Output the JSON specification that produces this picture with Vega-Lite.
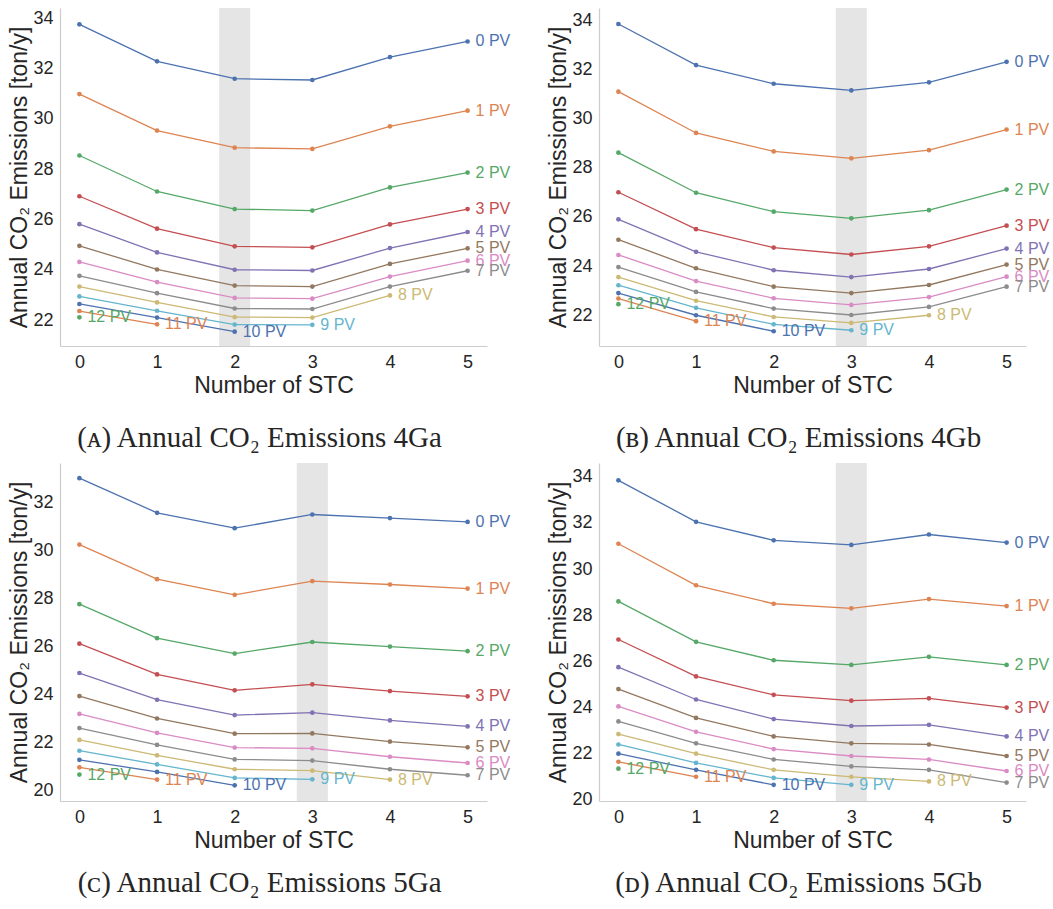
{
  "$schema": "https://vega.github.io/schema/vega-lite/v6.json",
  "padding": {"left": 8, "top": 8, "right": 2, "bottom": 2},
  "background": "white",
  "config": {
    "view": {"stroke": null},
    "axis": {"grid": false, "ticks": false, "tickSize": 0, "domainColor": "#cccccc", "domainWidth": 1.2, "labelFont": "Liberation Sans", "labelFontSize": 18, "labelColor": "#262626", "titleFont": "Liberation Sans", "titleFontSize": 23, "titleFontWeight": "normal", "titleColor": "#262626", "labelPadding": 7},
    "axisX": {"titlePadding": 3, "format": "d"},
    "axisY": {"titlePadding": 1},
    "title": {"orient": "bottom", "font": "Liberation Serif", "fontSize": 29, "fontWeight": "normal", "color": "#262626", "offset": 25, "anchor": "middle", "frame": "bounds"}
  },
  "datasets": {
    "bandA": [{"lo": 1.8, "hi": 2.2}],
    "bandB": [{"lo": 2.8, "hi": 3.2}],
    "bandC": [{"lo": 2.8, "hi": 3.2}],
    "bandD": [{"lo": 2.8, "hi": 3.2}],
    "A": [
      {"pv": "0 PV", "stc": 0, "emis": 33.75}, {"pv": "0 PV", "stc": 1, "emis": 32.28}, {"pv": "0 PV", "stc": 2, "emis": 31.59}, {"pv": "0 PV", "stc": 3, "emis": 31.54}, {"pv": "0 PV", "stc": 4, "emis": 32.45}, {"pv": "0 PV", "stc": 5, "emis": 33.07},
      {"pv": "1 PV", "stc": 0, "emis": 30.98}, {"pv": "1 PV", "stc": 1, "emis": 29.53}, {"pv": "1 PV", "stc": 2, "emis": 28.85}, {"pv": "1 PV", "stc": 3, "emis": 28.80}, {"pv": "1 PV", "stc": 4, "emis": 29.70}, {"pv": "1 PV", "stc": 5, "emis": 30.32},
      {"pv": "2 PV", "stc": 0, "emis": 28.54}, {"pv": "2 PV", "stc": 1, "emis": 27.11}, {"pv": "2 PV", "stc": 2, "emis": 26.41}, {"pv": "2 PV", "stc": 3, "emis": 26.35}, {"pv": "2 PV", "stc": 4, "emis": 27.27}, {"pv": "2 PV", "stc": 5, "emis": 27.86},
      {"pv": "3 PV", "stc": 0, "emis": 26.92}, {"pv": "3 PV", "stc": 1, "emis": 25.63}, {"pv": "3 PV", "stc": 2, "emis": 24.93}, {"pv": "3 PV", "stc": 3, "emis": 24.89}, {"pv": "3 PV", "stc": 4, "emis": 25.80}, {"pv": "3 PV", "stc": 5, "emis": 26.41},
      {"pv": "4 PV", "stc": 0, "emis": 25.81}, {"pv": "4 PV", "stc": 1, "emis": 24.69}, {"pv": "4 PV", "stc": 2, "emis": 24.00}, {"pv": "4 PV", "stc": 3, "emis": 23.97}, {"pv": "4 PV", "stc": 4, "emis": 24.86}, {"pv": "4 PV", "stc": 5, "emis": 25.50},
      {"pv": "5 PV", "stc": 0, "emis": 24.95}, {"pv": "5 PV", "stc": 1, "emis": 24.01}, {"pv": "5 PV", "stc": 2, "emis": 23.37}, {"pv": "5 PV", "stc": 3, "emis": 23.33}, {"pv": "5 PV", "stc": 4, "emis": 24.23}, {"pv": "5 PV", "stc": 5, "emis": 24.85},
      {"pv": "6 PV", "stc": 0, "emis": 24.31}, {"pv": "6 PV", "stc": 1, "emis": 23.51}, {"pv": "6 PV", "stc": 2, "emis": 22.88}, {"pv": "6 PV", "stc": 3, "emis": 22.85}, {"pv": "6 PV", "stc": 4, "emis": 23.73}, {"pv": "6 PV", "stc": 5, "emis": 24.36},
      {"pv": "7 PV", "stc": 0, "emis": 23.76}, {"pv": "7 PV", "stc": 1, "emis": 23.07}, {"pv": "7 PV", "stc": 2, "emis": 22.46}, {"pv": "7 PV", "stc": 3, "emis": 22.44}, {"pv": "7 PV", "stc": 4, "emis": 23.33}, {"pv": "7 PV", "stc": 5, "emis": 23.96},
      {"pv": "8 PV", "stc": 0, "emis": 23.33}, {"pv": "8 PV", "stc": 1, "emis": 22.70}, {"pv": "8 PV", "stc": 2, "emis": 22.12}, {"pv": "8 PV", "stc": 3, "emis": 22.10}, {"pv": "8 PV", "stc": 4, "emis": 22.98},
      {"pv": "9 PV", "stc": 0, "emis": 22.94}, {"pv": "9 PV", "stc": 1, "emis": 22.37}, {"pv": "9 PV", "stc": 2, "emis": 21.82}, {"pv": "9 PV", "stc": 3, "emis": 21.81},
      {"pv": "10 PV", "stc": 0, "emis": 22.64}, {"pv": "10 PV", "stc": 1, "emis": 22.10}, {"pv": "10 PV", "stc": 2, "emis": 21.54},
      {"pv": "11 PV", "stc": 0, "emis": 22.36}, {"pv": "11 PV", "stc": 1, "emis": 21.83},
      {"pv": "12 PV", "stc": 0, "emis": 22.11}
    ],
    "B": [
      {"pv": "0 PV", "stc": 0, "emis": 33.84}, {"pv": "0 PV", "stc": 1, "emis": 32.17}, {"pv": "0 PV", "stc": 2, "emis": 31.41}, {"pv": "0 PV", "stc": 3, "emis": 31.14}, {"pv": "0 PV", "stc": 4, "emis": 31.47}, {"pv": "0 PV", "stc": 5, "emis": 32.30},
      {"pv": "1 PV", "stc": 0, "emis": 31.09}, {"pv": "1 PV", "stc": 1, "emis": 29.41}, {"pv": "1 PV", "stc": 2, "emis": 28.66}, {"pv": "1 PV", "stc": 3, "emis": 28.38}, {"pv": "1 PV", "stc": 4, "emis": 28.71}, {"pv": "1 PV", "stc": 5, "emis": 29.55},
      {"pv": "2 PV", "stc": 0, "emis": 28.61}, {"pv": "2 PV", "stc": 1, "emis": 26.98}, {"pv": "2 PV", "stc": 2, "emis": 26.21}, {"pv": "2 PV", "stc": 3, "emis": 25.94}, {"pv": "2 PV", "stc": 4, "emis": 26.27}, {"pv": "2 PV", "stc": 5, "emis": 27.11},
      {"pv": "3 PV", "stc": 0, "emis": 27.00}, {"pv": "3 PV", "stc": 1, "emis": 25.50}, {"pv": "3 PV", "stc": 2, "emis": 24.75}, {"pv": "3 PV", "stc": 3, "emis": 24.47}, {"pv": "3 PV", "stc": 4, "emis": 24.80}, {"pv": "3 PV", "stc": 5, "emis": 25.64},
      {"pv": "4 PV", "stc": 0, "emis": 25.90}, {"pv": "4 PV", "stc": 1, "emis": 24.58}, {"pv": "4 PV", "stc": 2, "emis": 23.83}, {"pv": "4 PV", "stc": 3, "emis": 23.55}, {"pv": "4 PV", "stc": 4, "emis": 23.88}, {"pv": "4 PV", "stc": 5, "emis": 24.71},
      {"pv": "5 PV", "stc": 0, "emis": 25.07}, {"pv": "5 PV", "stc": 1, "emis": 23.91}, {"pv": "5 PV", "stc": 2, "emis": 23.16}, {"pv": "5 PV", "stc": 3, "emis": 22.90}, {"pv": "5 PV", "stc": 4, "emis": 23.23}, {"pv": "5 PV", "stc": 5, "emis": 24.06},
      {"pv": "6 PV", "stc": 0, "emis": 24.45}, {"pv": "6 PV", "stc": 1, "emis": 23.39}, {"pv": "6 PV", "stc": 2, "emis": 22.69}, {"pv": "6 PV", "stc": 3, "emis": 22.42}, {"pv": "6 PV", "stc": 4, "emis": 22.74}, {"pv": "6 PV", "stc": 5, "emis": 23.57},
      {"pv": "7 PV", "stc": 0, "emis": 23.96}, {"pv": "7 PV", "stc": 1, "emis": 22.95}, {"pv": "7 PV", "stc": 2, "emis": 22.27}, {"pv": "7 PV", "stc": 3, "emis": 22.01}, {"pv": "7 PV", "stc": 4, "emis": 22.34}, {"pv": "7 PV", "stc": 5, "emis": 23.16},
      {"pv": "8 PV", "stc": 0, "emis": 23.55}, {"pv": "8 PV", "stc": 1, "emis": 22.59}, {"pv": "8 PV", "stc": 2, "emis": 21.93}, {"pv": "8 PV", "stc": 3, "emis": 21.69}, {"pv": "8 PV", "stc": 4, "emis": 22.00},
      {"pv": "9 PV", "stc": 0, "emis": 23.22}, {"pv": "9 PV", "stc": 1, "emis": 22.30}, {"pv": "9 PV", "stc": 2, "emis": 21.63}, {"pv": "9 PV", "stc": 3, "emis": 21.39},
      {"pv": "10 PV", "stc": 0, "emis": 22.90}, {"pv": "10 PV", "stc": 1, "emis": 22.00}, {"pv": "10 PV", "stc": 2, "emis": 21.35},
      {"pv": "11 PV", "stc": 0, "emis": 22.68}, {"pv": "11 PV", "stc": 1, "emis": 21.76},
      {"pv": "12 PV", "stc": 0, "emis": 22.45}
    ],
    "C": [
      {"pv": "0 PV", "stc": 0, "emis": 33.00}, {"pv": "0 PV", "stc": 1, "emis": 31.56}, {"pv": "0 PV", "stc": 2, "emis": 30.92}, {"pv": "0 PV", "stc": 3, "emis": 31.49}, {"pv": "0 PV", "stc": 4, "emis": 31.34}, {"pv": "0 PV", "stc": 5, "emis": 31.18},
      {"pv": "1 PV", "stc": 0, "emis": 30.24}, {"pv": "1 PV", "stc": 1, "emis": 28.80}, {"pv": "1 PV", "stc": 2, "emis": 28.15}, {"pv": "1 PV", "stc": 3, "emis": 28.72}, {"pv": "1 PV", "stc": 4, "emis": 28.58}, {"pv": "1 PV", "stc": 5, "emis": 28.41},
      {"pv": "2 PV", "stc": 0, "emis": 27.76}, {"pv": "2 PV", "stc": 1, "emis": 26.35}, {"pv": "2 PV", "stc": 2, "emis": 25.71}, {"pv": "2 PV", "stc": 3, "emis": 26.19}, {"pv": "2 PV", "stc": 4, "emis": 26.00}, {"pv": "2 PV", "stc": 5, "emis": 25.81},
      {"pv": "3 PV", "stc": 0, "emis": 26.12}, {"pv": "3 PV", "stc": 1, "emis": 24.84}, {"pv": "3 PV", "stc": 2, "emis": 24.18}, {"pv": "3 PV", "stc": 3, "emis": 24.43}, {"pv": "3 PV", "stc": 4, "emis": 24.15}, {"pv": "3 PV", "stc": 5, "emis": 23.93},
      {"pv": "4 PV", "stc": 0, "emis": 24.90}, {"pv": "4 PV", "stc": 1, "emis": 23.79}, {"pv": "4 PV", "stc": 2, "emis": 23.15}, {"pv": "4 PV", "stc": 3, "emis": 23.25}, {"pv": "4 PV", "stc": 4, "emis": 22.93}, {"pv": "4 PV", "stc": 5, "emis": 22.68},
      {"pv": "5 PV", "stc": 0, "emis": 23.94}, {"pv": "5 PV", "stc": 1, "emis": 23.01}, {"pv": "5 PV", "stc": 2, "emis": 22.38}, {"pv": "5 PV", "stc": 3, "emis": 22.39}, {"pv": "5 PV", "stc": 4, "emis": 22.05}, {"pv": "5 PV", "stc": 5, "emis": 21.81},
      {"pv": "6 PV", "stc": 0, "emis": 23.20}, {"pv": "6 PV", "stc": 1, "emis": 22.41}, {"pv": "6 PV", "stc": 2, "emis": 21.80}, {"pv": "6 PV", "stc": 3, "emis": 21.77}, {"pv": "6 PV", "stc": 4, "emis": 21.42}, {"pv": "6 PV", "stc": 5, "emis": 21.16},
      {"pv": "7 PV", "stc": 0, "emis": 22.61}, {"pv": "7 PV", "stc": 1, "emis": 21.91}, {"pv": "7 PV", "stc": 2, "emis": 21.31}, {"pv": "7 PV", "stc": 3, "emis": 21.26}, {"pv": "7 PV", "stc": 4, "emis": 20.90}, {"pv": "7 PV", "stc": 5, "emis": 20.65},
      {"pv": "8 PV", "stc": 0, "emis": 22.12}, {"pv": "8 PV", "stc": 1, "emis": 21.48}, {"pv": "8 PV", "stc": 2, "emis": 20.90}, {"pv": "8 PV", "stc": 3, "emis": 20.84}, {"pv": "8 PV", "stc": 4, "emis": 20.47},
      {"pv": "9 PV", "stc": 0, "emis": 21.67}, {"pv": "9 PV", "stc": 1, "emis": 21.10}, {"pv": "9 PV", "stc": 2, "emis": 20.54}, {"pv": "9 PV", "stc": 3, "emis": 20.48},
      {"pv": "10 PV", "stc": 0, "emis": 21.29}, {"pv": "10 PV", "stc": 1, "emis": 20.79}, {"pv": "10 PV", "stc": 2, "emis": 20.23},
      {"pv": "11 PV", "stc": 0, "emis": 20.98}, {"pv": "11 PV", "stc": 1, "emis": 20.47},
      {"pv": "12 PV", "stc": 0, "emis": 20.68}
    ],
    "D": [
      {"pv": "0 PV", "stc": 0, "emis": 33.85}, {"pv": "0 PV", "stc": 1, "emis": 32.05}, {"pv": "0 PV", "stc": 2, "emis": 31.25}, {"pv": "0 PV", "stc": 3, "emis": 31.05}, {"pv": "0 PV", "stc": 4, "emis": 31.50}, {"pv": "0 PV", "stc": 5, "emis": 31.15},
      {"pv": "1 PV", "stc": 0, "emis": 31.10}, {"pv": "1 PV", "stc": 1, "emis": 29.30}, {"pv": "1 PV", "stc": 2, "emis": 28.50}, {"pv": "1 PV", "stc": 3, "emis": 28.30}, {"pv": "1 PV", "stc": 4, "emis": 28.70}, {"pv": "1 PV", "stc": 5, "emis": 28.40},
      {"pv": "2 PV", "stc": 0, "emis": 28.60}, {"pv": "2 PV", "stc": 1, "emis": 26.85}, {"pv": "2 PV", "stc": 2, "emis": 26.05}, {"pv": "2 PV", "stc": 3, "emis": 25.85}, {"pv": "2 PV", "stc": 4, "emis": 26.20}, {"pv": "2 PV", "stc": 5, "emis": 25.85},
      {"pv": "3 PV", "stc": 0, "emis": 26.95}, {"pv": "3 PV", "stc": 1, "emis": 25.35}, {"pv": "3 PV", "stc": 2, "emis": 24.55}, {"pv": "3 PV", "stc": 3, "emis": 24.30}, {"pv": "3 PV", "stc": 4, "emis": 24.40}, {"pv": "3 PV", "stc": 5, "emis": 24.00},
      {"pv": "4 PV", "stc": 0, "emis": 25.75}, {"pv": "4 PV", "stc": 1, "emis": 24.35}, {"pv": "4 PV", "stc": 2, "emis": 23.50}, {"pv": "4 PV", "stc": 3, "emis": 23.20}, {"pv": "4 PV", "stc": 4, "emis": 23.25}, {"pv": "4 PV", "stc": 5, "emis": 22.75},
      {"pv": "5 PV", "stc": 0, "emis": 24.80}, {"pv": "5 PV", "stc": 1, "emis": 23.55}, {"pv": "5 PV", "stc": 2, "emis": 22.75}, {"pv": "5 PV", "stc": 3, "emis": 22.45}, {"pv": "5 PV", "stc": 4, "emis": 22.40}, {"pv": "5 PV", "stc": 5, "emis": 21.90},
      {"pv": "6 PV", "stc": 0, "emis": 24.05}, {"pv": "6 PV", "stc": 1, "emis": 22.95}, {"pv": "6 PV", "stc": 2, "emis": 22.20}, {"pv": "6 PV", "stc": 3, "emis": 21.90}, {"pv": "6 PV", "stc": 4, "emis": 21.75}, {"pv": "6 PV", "stc": 5, "emis": 21.25},
      {"pv": "7 PV", "stc": 0, "emis": 23.40}, {"pv": "7 PV", "stc": 1, "emis": 22.45}, {"pv": "7 PV", "stc": 2, "emis": 21.75}, {"pv": "7 PV", "stc": 3, "emis": 21.45}, {"pv": "7 PV", "stc": 4, "emis": 21.30}, {"pv": "7 PV", "stc": 5, "emis": 20.75},
      {"pv": "8 PV", "stc": 0, "emis": 22.85}, {"pv": "8 PV", "stc": 1, "emis": 22.00}, {"pv": "8 PV", "stc": 2, "emis": 21.30}, {"pv": "8 PV", "stc": 3, "emis": 21.00}, {"pv": "8 PV", "stc": 4, "emis": 20.80},
      {"pv": "9 PV", "stc": 0, "emis": 22.40}, {"pv": "9 PV", "stc": 1, "emis": 21.60}, {"pv": "9 PV", "stc": 2, "emis": 20.95}, {"pv": "9 PV", "stc": 3, "emis": 20.65},
      {"pv": "10 PV", "stc": 0, "emis": 22.00}, {"pv": "10 PV", "stc": 1, "emis": 21.30}, {"pv": "10 PV", "stc": 2, "emis": 20.65},
      {"pv": "11 PV", "stc": 0, "emis": 21.65}, {"pv": "11 PV", "stc": 1, "emis": 21.00},
      {"pv": "12 PV", "stc": 0, "emis": 21.35}
    ]
  },
  "vconcat": [
    {
      "spacing": 36,
      "hconcat": [
        {
          "width": 427, "height": 338,
          "title": {"text": "(ᴀ) Annual CO₂ Emissions 4Ga", "offset": 27},
          "layer": [
            {"data": {"name": "bandA"}, "mark": {"type": "rect", "color": "#e5e5e5"},
             "encoding": {"x": {"field": "lo", "type": "quantitative", "title": "Number of STC", "scale": {"domain": [-0.25, 5.25], "nice": false, "zero": false}, "axis": {"values": [0, 1, 2, 3, 4, 5]}}, "x2": {"field": "hi"}}},
            {"data": {"name": "A"}, "mark": {"type": "line", "strokeWidth": 1.3},
             "encoding": {"x": {"field": "stc", "type": "quantitative", "title": "Number of STC"}, "y": {"field": "emis", "type": "quantitative", "title": "Annual CO₂ Emissions [ton/y]", "scale": {"domain": [20.97, 34.4], "nice": false, "zero": false}, "axis": {"values": [22, 24, 26, 28, 30, 32, 34]}},
                          "color": {"field": "pv", "type": "nominal", "legend": null, "scale": {"domain": ["0 PV", "1 PV", "2 PV", "3 PV", "4 PV", "5 PV", "6 PV", "7 PV", "8 PV", "9 PV", "10 PV", "11 PV", "12 PV"], "range": ["#4C72B0", "#DD8452", "#55A868", "#C44E52", "#8172B3", "#937860", "#DA8BC3", "#8C8C8C", "#CCB974", "#64B5CD", "#4C72B0", "#DD8452", "#55A868"]}}}},
            {"data": {"name": "A"}, "mark": {"type": "point", "filled": true, "opacity": 1, "size": 22},
             "encoding": {"x": {"field": "stc", "type": "quantitative", "title": "Number of STC"}, "y": {"field": "emis", "type": "quantitative", "title": "Annual CO₂ Emissions [ton/y]"}, "color": {"field": "pv", "type": "nominal", "legend": null}}},
            {"data": {"name": "A"}, "transform": [{"joinaggregate": [{"op": "max", "field": "stc", "as": "maxstc"}], "groupby": ["pv"]}, {"filter": "datum.stc === datum.maxstc"}],
             "mark": {"type": "text", "align": "left", "baseline": "middle", "dx": 8, "font": "Liberation Sans", "fontSize": 16},
             "encoding": {"x": {"field": "stc", "type": "quantitative", "title": "Number of STC"}, "y": {"field": "emis", "type": "quantitative", "title": "Annual CO₂ Emissions [ton/y]"}, "text": {"field": "pv"}, "color": {"field": "pv", "type": "nominal", "legend": null}}}
          ]
        },
        {
          "width": 427, "height": 338,
          "title": {"text": "(ʙ) Annual CO₂ Emissions 4Gb", "offset": 27},
          "layer": [
            {"data": {"name": "bandB"}, "mark": {"type": "rect", "color": "#e5e5e5"},
             "encoding": {"x": {"field": "lo", "type": "quantitative", "title": "Number of STC", "scale": {"domain": [-0.25, 5.25], "nice": false, "zero": false}, "axis": {"values": [0, 1, 2, 3, 4, 5]}}, "x2": {"field": "hi"}}},
            {"data": {"name": "B"}, "mark": {"type": "line", "strokeWidth": 1.3},
             "encoding": {"x": {"field": "stc", "type": "quantitative", "title": "Number of STC"}, "y": {"field": "emis", "type": "quantitative", "title": "Annual CO₂ Emissions [ton/y]", "scale": {"domain": [20.75, 34.49], "nice": false, "zero": false}, "axis": {"values": [22, 24, 26, 28, 30, 32, 34]}},
                          "color": {"field": "pv", "type": "nominal", "legend": null, "scale": {"domain": ["0 PV", "1 PV", "2 PV", "3 PV", "4 PV", "5 PV", "6 PV", "7 PV", "8 PV", "9 PV", "10 PV", "11 PV", "12 PV"], "range": ["#4C72B0", "#DD8452", "#55A868", "#C44E52", "#8172B3", "#937860", "#DA8BC3", "#8C8C8C", "#CCB974", "#64B5CD", "#4C72B0", "#DD8452", "#55A868"]}}}},
            {"data": {"name": "B"}, "mark": {"type": "point", "filled": true, "opacity": 1, "size": 22},
             "encoding": {"x": {"field": "stc", "type": "quantitative", "title": "Number of STC"}, "y": {"field": "emis", "type": "quantitative", "title": "Annual CO₂ Emissions [ton/y]"}, "color": {"field": "pv", "type": "nominal", "legend": null}}},
            {"data": {"name": "B"}, "transform": [{"joinaggregate": [{"op": "max", "field": "stc", "as": "maxstc"}], "groupby": ["pv"]}, {"filter": "datum.stc === datum.maxstc"}],
             "mark": {"type": "text", "align": "left", "baseline": "middle", "dx": 8, "font": "Liberation Sans", "fontSize": 16},
             "encoding": {"x": {"field": "stc", "type": "quantitative", "title": "Number of STC"}, "y": {"field": "emis", "type": "quantitative", "title": "Annual CO₂ Emissions [ton/y]"}, "text": {"field": "pv"}, "color": {"field": "pv", "type": "nominal", "legend": null}}}
          ]
        }
      ]
    },
    {
      "spacing": 36,
      "hconcat": [
        {
          "width": 427, "height": 338,
          "title": {"text": "(ᴄ) Annual CO₂ Emissions 5Ga", "offset": 17},
          "layer": [
            {"data": {"name": "bandC"}, "mark": {"type": "rect", "color": "#e5e5e5"},
             "encoding": {"x": {"field": "lo", "type": "quantitative", "title": "Number of STC", "scale": {"domain": [-0.25, 5.25], "nice": false, "zero": false}, "axis": {"values": [0, 1, 2, 3, 4, 5]}}, "x2": {"field": "hi"}}},
            {"data": {"name": "C"}, "mark": {"type": "line", "strokeWidth": 1.3},
             "encoding": {"x": {"field": "stc", "type": "quantitative", "title": "Number of STC"}, "y": {"field": "emis", "type": "quantitative", "title": "Annual CO₂ Emissions [ton/y]", "scale": {"domain": [19.58, 33.63], "nice": false, "zero": false}, "axis": {"values": [20, 22, 24, 26, 28, 30, 32]}},
                          "color": {"field": "pv", "type": "nominal", "legend": null, "scale": {"domain": ["0 PV", "1 PV", "2 PV", "3 PV", "4 PV", "5 PV", "6 PV", "7 PV", "8 PV", "9 PV", "10 PV", "11 PV", "12 PV"], "range": ["#4C72B0", "#DD8452", "#55A868", "#C44E52", "#8172B3", "#937860", "#DA8BC3", "#8C8C8C", "#CCB974", "#64B5CD", "#4C72B0", "#DD8452", "#55A868"]}}}},
            {"data": {"name": "C"}, "mark": {"type": "point", "filled": true, "opacity": 1, "size": 22},
             "encoding": {"x": {"field": "stc", "type": "quantitative", "title": "Number of STC"}, "y": {"field": "emis", "type": "quantitative", "title": "Annual CO₂ Emissions [ton/y]"}, "color": {"field": "pv", "type": "nominal", "legend": null}}},
            {"data": {"name": "C"}, "transform": [{"joinaggregate": [{"op": "max", "field": "stc", "as": "maxstc"}], "groupby": ["pv"]}, {"filter": "datum.stc === datum.maxstc"}],
             "mark": {"type": "text", "align": "left", "baseline": "middle", "dx": 8, "font": "Liberation Sans", "fontSize": 16},
             "encoding": {"x": {"field": "stc", "type": "quantitative", "title": "Number of STC"}, "y": {"field": "emis", "type": "quantitative", "title": "Annual CO₂ Emissions [ton/y]"}, "text": {"field": "pv"}, "color": {"field": "pv", "type": "nominal", "legend": null}}}
          ]
        },
        {
          "width": 427, "height": 338,
          "title": {"text": "(ᴅ) Annual CO₂ Emissions 5Gb", "offset": 17},
          "layer": [
            {"data": {"name": "bandD"}, "mark": {"type": "rect", "color": "#e5e5e5"},
             "encoding": {"x": {"field": "lo", "type": "quantitative", "title": "Number of STC", "scale": {"domain": [-0.25, 5.25], "nice": false, "zero": false}, "axis": {"values": [0, 1, 2, 3, 4, 5]}}, "x2": {"field": "hi"}}},
            {"data": {"name": "D"}, "mark": {"type": "line", "strokeWidth": 1.3},
             "encoding": {"x": {"field": "stc", "type": "quantitative", "title": "Number of STC"}, "y": {"field": "emis", "type": "quantitative", "title": "Annual CO₂ Emissions [ton/y]", "scale": {"domain": [19.95, 34.6], "nice": false, "zero": false}, "axis": {"values": [20, 22, 24, 26, 28, 30, 32, 34]}},
                          "color": {"field": "pv", "type": "nominal", "legend": null, "scale": {"domain": ["0 PV", "1 PV", "2 PV", "3 PV", "4 PV", "5 PV", "6 PV", "7 PV", "8 PV", "9 PV", "10 PV", "11 PV", "12 PV"], "range": ["#4C72B0", "#DD8452", "#55A868", "#C44E52", "#8172B3", "#937860", "#DA8BC3", "#8C8C8C", "#CCB974", "#64B5CD", "#4C72B0", "#DD8452", "#55A868"]}}}},
            {"data": {"name": "D"}, "mark": {"type": "point", "filled": true, "opacity": 1, "size": 22},
             "encoding": {"x": {"field": "stc", "type": "quantitative", "title": "Number of STC"}, "y": {"field": "emis", "type": "quantitative", "title": "Annual CO₂ Emissions [ton/y]"}, "color": {"field": "pv", "type": "nominal", "legend": null}}},
            {"data": {"name": "D"}, "transform": [{"joinaggregate": [{"op": "max", "field": "stc", "as": "maxstc"}], "groupby": ["pv"]}, {"filter": "datum.stc === datum.maxstc"}],
             "mark": {"type": "text", "align": "left", "baseline": "middle", "dx": 8, "font": "Liberation Sans", "fontSize": 16},
             "encoding": {"x": {"field": "stc", "type": "quantitative", "title": "Number of STC"}, "y": {"field": "emis", "type": "quantitative", "title": "Annual CO₂ Emissions [ton/y]"}, "text": {"field": "pv"}, "color": {"field": "pv", "type": "nominal", "legend": null}}}
          ]
        }
      ]
    }
  ],
  "spacing": 10
}
